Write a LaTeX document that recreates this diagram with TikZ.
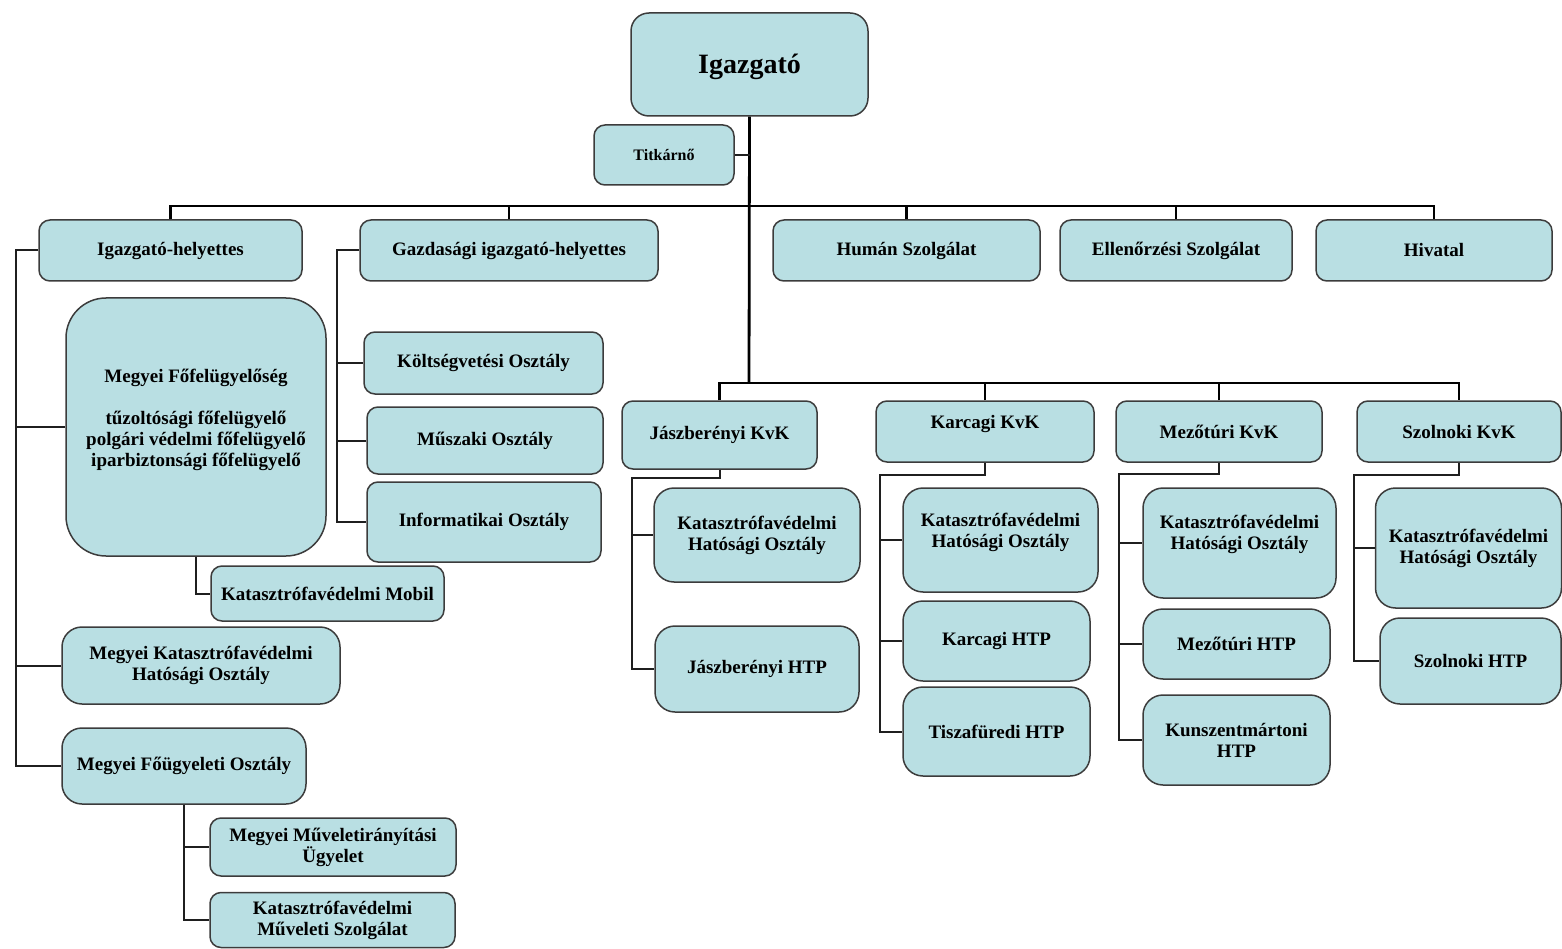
\documentclass[tikz,border=0pt]{standalone}
\usepackage{fontspec}
\setmainfont{Liberation Serif}
\definecolor{boxfill}{RGB}{185,223,227}
\definecolor{boxline}{RGB}{60,60,60}
\tikzset{
  box/.style={draw=boxline, line width=1.5pt, fill=boxfill, rounded corners=11pt, inner sep=0pt, align=center, font=\fontsize{19}{21}\selectfont\bfseries},
  bigr/.style={rounded corners=20pt},
  lbl/.style={align=center, inner sep=0pt, font=\fontsize{19}{21}\selectfont\bfseries},
  conn/.style={draw=black!88, line width=2pt},
  mainconn/.style={draw=black, line width=2.8pt},
}
\begin{document}
\begin{tikzpicture}[x=1pt,y=-1pt]
\useasboundingbox (0,0) rectangle (1562,949);
% top
\node[box, rounded corners=18pt, minimum width=237pt, minimum height=103pt, font=\fontsize{28}{32}\selectfont\bfseries, label={[lbl,font=\fontsize{28}{32}\selectfont\bfseries,yshift=-2pt]center:Igazgató}] (ig) at (749.5,64.5) {};
\node[box, minimum width=140pt, minimum height=60pt, font=\fontsize{16}{19}\selectfont\bfseries] (tit) at (664,155) {Titkárnő};
% second row
\node[box, minimum width=263pt, minimum height=61pt] (igh) at (170.5,250.5) {Igazgató-helyettes};
\node[box, minimum width=298pt, minimum height=61pt] (gih) at (509,250.5) {Gazdasági igazgató-helyettes};
\node[box, minimum width=267pt, minimum height=61pt] (hum) at (906.5,250.5) {Humán Szolgálat};
\node[box, minimum width=232pt, minimum height=61pt] (ell) at (1176,250.5) {Ellenőrzési Szolgálat};
\node[box, minimum width=236pt, minimum height=61pt] (hiv) at (1434,250.5) {Hivatal};
% left column
\node[box, rounded corners=40pt, minimum width=260pt, minimum height=258pt,
  label={[lbl,yshift=7pt]center:{Megyei Főfelügyelőség\\[21pt]tűzoltósági főfelügyelő\\polgári védelmi főfelügyelő\\iparbiztonsági főfelügyelő}}] (mff) at (196,427) {};
\node[box, minimum width=233pt, minimum height=55pt] (mob) at (327.5,593.5) {Katasztrófavédelmi Mobil};
\node[box, bigr, minimum width=278pt, minimum height=77pt] (mkh) at (201,665.5) {Megyei Katasztrófavédelmi\\Hatósági Osztály};
\node[box, bigr, minimum width=244pt, minimum height=76pt] (mfo) at (184,766) {Megyei Főügyeleti Osztály};
\node[box, minimum width=246pt, minimum height=58pt] (mmu) at (333,847) {Megyei Műveletirányítási\\Ügyelet};
\node[box, minimum width=245pt, minimum height=55pt] (kms) at (332.5,920) {Katasztrófavédelmi\\Műveleti Szolgálat};
% gazdasagi column
\node[box, minimum width=239pt, minimum height=62pt] (kol) at (483.5,363) {Költségvetési Osztály};
\node[box, minimum width=236pt, minimum height=67pt] (mus) at (485,440.5) {Műszaki Osztály};
\node[box, minimum width=234pt, minimum height=80pt] (inf) at (484,522) {Informatikai Osztály};
% KvK row
\node[box, minimum width=195pt, minimum height=68pt] (jkv) at (719.5,435) {Jászberényi KvK};
\node[box, minimum width=218pt, minimum height=61pt, label={[lbl,yshift=7pt]center:Karcagi KvK}] (kkv) at (985,431.5) {};
\node[box, minimum width=206pt, minimum height=61pt] (mkv) at (1219,431.5) {Mezőtúri KvK};
\node[box, minimum width=204pt, minimum height=61pt] (skv) at (1459,431.5) {Szolnoki KvK};
% Jaszbereny
\node[box, bigr, minimum width=206pt, minimum height=94pt] (jkh) at (757,535) {Katasztrófavédelmi\\Hatósági Osztály};
\node[box, bigr, minimum width=204pt, minimum height=86pt] (jhtp) at (757,669) {Jászberényi HTP};
% Karcag
\node[box, bigr, minimum width=195pt, minimum height=104pt, label={[lbl,yshift=8pt]center:{Katasztrófavédelmi\\Hatósági Osztály}}] (kkh) at (1000.5,540) {};
\node[box, bigr, minimum width=187pt, minimum height=80pt] (khtp) at (996.5,641) {Karcagi HTP};
\node[box, bigr, minimum width=187pt, minimum height=89pt] (thtp) at (996.5,731.5) {Tiszafüredi HTP};
% Mezotur
\node[box, bigr, minimum width=193pt, minimum height=110pt, label={[lbl,yshift=9pt]center:{Katasztrófavédelmi\\Hatósági Osztály}}] (mkh2) at (1239.5,543) {};
\node[box, bigr, minimum width=187pt, minimum height=70pt] (mhtp) at (1236.5,644) {Mezőtúri HTP};
\node[box, bigr, minimum width=187pt, minimum height=90pt] (kuhtp) at (1236.5,740) {Kunszentmártoni\\HTP};
% Szolnok
\node[box, bigr, minimum width=186pt, minimum height=120pt] (skh) at (1468.5,548) {Katasztrófavédelmi\\Hatósági Osztály};
\node[box, bigr, minimum width=181pt, minimum height=86pt] (shtp) at (1470.5,661) {Szolnoki HTP};

% connectors
\coordinate (bus) at (749,206);
\coordinate (kbus) at (749,383);
\draw[mainconn] (ig.south) -- (kbus);
\draw[conn] (tit.east) -- (tit.east -| ig.south);
\draw[mainconn] (igh.north) |- (bus) -| (hiv.north);
\draw[mainconn] (gih.north) -- (gih.north |- bus);
\draw[mainconn] (hum.north) -- (hum.north |- bus);
\draw[mainconn] (ell.north) -- (ell.north |- bus);
% left column
\coordinate (L1) at (16,250.5);
\draw[conn] (igh.west) -- (L1) |- (mfo.west);
\draw[conn] (L1) |- (mff.west);
\draw[conn] (L1) |- (mkh.west);
\draw[conn] (mff.south) |- (mob.west);
\draw[conn] (mfo.south) |- (kms.west);
\draw[conn] (mfo.south) |- (mmu.west);
% gazdasagi
\coordinate (G1) at (337,250.5);
\draw[conn] (gih.west) -- (G1) |- (inf.west);
\draw[conn] (G1) |- (kol.west);
\draw[conn] (G1) |- (mus.west);
% KvK bus
\draw[mainconn] (jkv.north) |- (kbus) -| (skv.north);
\draw[mainconn] (kkv.north) -- (kkv.north |- kbus);
\draw[mainconn] (mkv.north) -- (mkv.north |- kbus);
% Jaszbereny
\coordinate (J1) at (632,478);
\draw[conn] (jkv.south) |- (J1) |- (jhtp.west);
\draw[conn] (J1) |- (jkh.west);
% Karcag
\coordinate (C1) at (880,475);
\draw[conn] (kkv.south) |- (C1) |- (thtp.west);
\draw[conn] (C1) |- (kkh.west);
\draw[conn] (C1) |- (khtp.west);
% Mezotur
\coordinate (M1) at (1119,474);
\draw[conn] (mkv.south) |- (M1) |- (kuhtp.west);
\draw[conn] (M1) |- (mkh2.west);
\draw[conn] (M1) |- (mhtp.west);
% Szolnok
\coordinate (S1) at (1354,475);
\draw[conn] (skv.south) |- (S1) |- (shtp.west);
\draw[conn] (S1) |- (skh.west);
\end{tikzpicture}
\end{document}
